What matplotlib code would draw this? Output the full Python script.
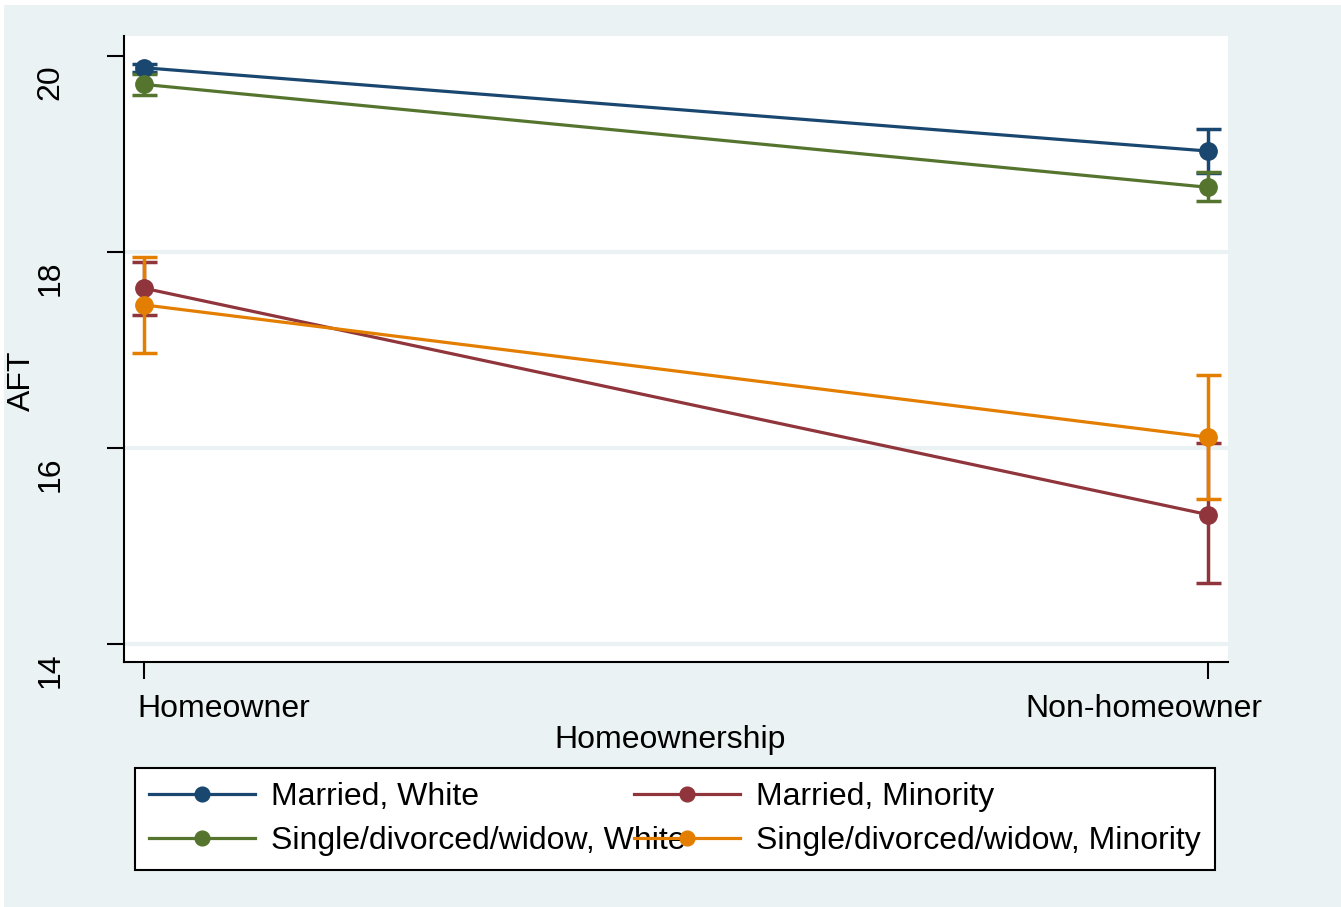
import matplotlib.pyplot as plt
import matplotlib.transforms as mtransforms
from matplotlib.patches import Rectangle

plt.rcParams['font.family'] = ['Liberation Sans', 'DejaVu Sans']

# Predicted AFT by homeownership, with confidence intervals
categories = ["Homeowner", "Non-homeowner"]
xpos = [0, 1]

series_names = [
    "Married, White",
    "Single/divorced/widow, White",
    "Married, Minority",
    "Single/divorced/widow, Minority",
]
means = [
    [19.88, 19.03],
    [19.71, 18.66],
    [17.63, 15.32],
    [17.46, 16.11],
]
lower = [
    [19.84, 18.81],
    [19.60, 18.52],
    [17.36, 14.62],
    [16.97, 15.48],
]
upper = [
    [19.92, 19.25],
    [19.82, 18.82],
    [17.90, 16.05],
    [17.95, 16.74],
]
colors = ["#1A476F", "#55752F", "#90353B", "#E37E00"]

bg = "#EAF2F3"
fs = 23

fig = plt.figure(figsize=(13.41, 9.07), dpi=100, facecolor=bg)
# thin white margin at the top/left edge
fig.patches.append(Rectangle((0, 1 - 5 / 907), 1, 5 / 907, transform=fig.transFigure,
                             facecolor="white", edgecolor="none", zorder=-1))
fig.patches.append(Rectangle((0, 0), 4 / 1341, 1, transform=fig.transFigure,
                             facecolor="white", edgecolor="none", zorder=-1))

ax = fig.add_axes([124 / 1341, 1 - 662 / 907, 1104 / 1341, 626 / 907])
ax.set_facecolor("white")

for yv in [14, 16, 18]:
    ax.axhline(yv, color=bg, lw=3, zorder=0)

handles = []
for name, m, lo, hi, c in zip(series_names, means, lower, upper, colors):
    yerr = [[mi - l for mi, l in zip(m, lo)], [h - mi for mi, h in zip(m, hi)]]
    ax.errorbar(xpos, m, yerr=yerr, fmt="none", ecolor=c, elinewidth=2.5,
                capsize=9, capthick=2.5, zorder=2)
    h, = ax.plot(xpos, m, color=c, lw=2.3, marker="o", markersize=12.5,
                 markeredgecolor=c, label=name, zorder=3)
    handles.append(h)

ax.set_xlim(-0.0188, 1.0188)
ax.set_ylim(13.816, 20.204)
ax.set_yticks([14, 16, 18, 20])
ax.set_yticklabels(["14", "16", "18", "20"], rotation=90, va="center", fontsize=fs)
ax.set_xticks(xpos)
ax.set_xticklabels(categories, fontsize=fs)

for s in ["top", "right"]:
    ax.spines[s].set_visible(False)
for s in ["left", "bottom"]:
    ax.spines[s].set_linewidth(1.5)
ax.tick_params(axis="y", length=12, width=1.5, pad=30)
ax.tick_params(axis="x", length=12, width=1.5, pad=11)

# nudge tick labels the way they sit in the layout
for lab in ax.get_yticklabels():
    lab.set_transform(lab.get_transform() +
                      mtransforms.ScaledTranslation(0, -26 / 100, fig.dpi_scale_trans))
xl = ax.get_xticklabels()
xl[0].set_ha("left")
xl[0].set_transform(xl[0].get_transform() +
                    mtransforms.ScaledTranslation(-7 / 100, 0, fig.dpi_scale_trans))
xl[1].set_ha("right")
xl[1].set_transform(xl[1].get_transform() +
                    mtransforms.ScaledTranslation(54 / 100, 0, fig.dpi_scale_trans))

ax.set_ylabel("AFT", fontsize=fs)
ax.yaxis.set_label_coords(-0.079, 0.45)
ax.set_xlabel("Homeownership", fontsize=fs)
ax.xaxis.set_label_coords(0.495, -0.101)

leg = fig.legend(handles=handles, ncol=2, fontsize=fs, loc="upper left",
                 bbox_to_anchor=(135 / 1341, 1 - 768 / 907, 1080 / 1341, 0),
                 mode="expand", borderaxespad=0, fancybox=False, frameon=True,
                 edgecolor="black", framealpha=1, handlelength=3.3,
                 handletextpad=0.5, labelspacing=0.42, borderpad=0.45,
                 markerscale=0.85)
leg.get_frame().set_linewidth(1.5)

fig.savefig("out.png", dpi=100, facecolor=bg)
